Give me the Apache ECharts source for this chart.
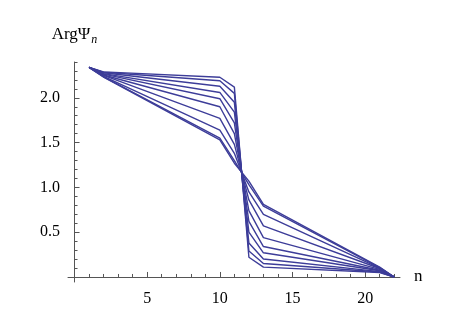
<!DOCTYPE html>
<html>
<head>
<meta charset="utf-8">
<script src="https://cdn.jsdelivr.net/npm/echarts@6/dist/echarts.min.js"></script>
<style>
  html, body { margin: 0; padding: 0; background: #fff; }
  #main { width: 471px; height: 327px; }
</style>
</head>
<body>
<div id="main"></div>
<script>
// sample points (lines are straight between these n)
var nValues = [1, 2, 10, 11, 12, 13, 21, 22];
var arg1  = [2.34, 2.29,  2.23, 2.12, 0.22, 0.11, 0.05,  0.0];
var arg2  = [2.34, 2.285, 2.19, 2.05, 0.29, 0.15, 0.055, 0.0];
var arg3  = [2.34, 2.28,  2.13, 1.95, 0.38, 0.20, 0.06,  0.0];
var arg4  = [2.34, 2.27,  2.06, 1.84, 0.50, 0.27, 0.07,  0.0];
var arg5  = [2.34, 2.265, 1.99, 1.72, 0.62, 0.34, 0.075, 0.0];
var arg6  = [2.34, 2.255, 1.90, 1.60, 0.74, 0.44, 0.085, 0.0];
var arg7  = [2.34, 2.25,  1.77, 1.48, 0.86, 0.57, 0.095, 0.0];
var arg8  = [2.34, 2.24,  1.64, 1.38, 0.95, 0.70, 0.10,  0.0];
var arg9  = [2.34, 2.235, 1.55, 1.30, 1.03, 0.79, 0.105, 0.0];
var arg10 = [2.34, 2.23,  1.53, 1.27, 1.07, 0.81, 0.11,  0.0];
var allArgs = [arg1, arg2, arg3, arg4, arg5, arg6, arg7, arg8, arg9, arg10];

// ticks
var xMajor = [5, 10, 15, 20];
var xMinor = [1, 2, 3, 4, 6, 7, 8, 9, 11, 12, 13, 14, 16, 17, 18, 19, 21, 22];
var yMajor = [0.5, 1.0, 1.5, 2.0];
var yMinor = [0.1, 0.2, 0.3, 0.4, 0.6, 0.7, 0.8, 0.9, 1.1, 1.2, 1.3, 1.4,
              1.6, 1.7, 1.8, 1.9, 2.1, 2.2, 2.3, 2.4];

var lineColor = '#3d3d99';
var axisColor = '#555';
var font = 'Liberation Serif';

var chart = echarts.init(document.getElementById('main'));

var series = allArgs.map(function (vals, i) {
    return {
        type: 'line',
        name: 'line' + (i + 1),
        xAxisIndex: 0,
        yAxisIndex: 0,
        symbol: 'none',
        lineStyle: { color: lineColor, width: 1.4 },
        data: nValues.map(function (n, k) { return [n, vals[k]]; })
    };
});

var xRange = { min: -0.45, max: 22.4 };
var yRange = { min: -0.056, max: 2.4 };

chart.setOption({
    animation: false,
    backgroundColor: '#fff',
    grid: { left: 68, right: 71, top: 62, bottom: 45, containLabel: false },
    xAxis: [{
        type: 'value', position: 'bottom',
        min: xRange.min, max: xRange.max,
        name: 'n', nameLocation: 'end', nameGap: 14,
        nameTextStyle: { fontFamily: font, fontSize: 17, color: '#000' },
        axisLine: { onZero: true, lineStyle: { color: axisColor, width: 1 } },
        axisTick: { inside: true, length: 5, customValues: xMajor, lineStyle: { color: axisColor } },
        axisLabel: { customValues: xMajor, margin: 9, fontFamily: font, fontSize: 16, color: '#000' },
        splitLine: { show: false }
    }, {
        type: 'value', position: 'bottom',
        min: xRange.min, max: xRange.max,
        axisLine: { show: false, onZero: true },
        axisTick: { inside: true, length: 3, customValues: xMinor, lineStyle: { color: axisColor } },
        axisLabel: { show: false },
        splitLine: { show: false }
    }],
    yAxis: [{
        type: 'value', position: 'left',
        min: yRange.min, max: yRange.max,
        name: 'ArgΨ{s|n}', nameLocation: 'end', nameGap: 16,
        nameTextStyle: {
            fontFamily: font, fontSize: 17, color: '#000',
            rich: { s: { fontFamily: font, fontStyle: 'italic', fontSize: 12, color: '#000', padding: [10, 0, 0, 1] } }
        },
        axisLine: { onZero: true, lineStyle: { color: axisColor, width: 1 } },
        axisTick: { inside: true, length: 5, customValues: yMajor, lineStyle: { color: axisColor } },
        axisLabel: {
            customValues: yMajor, margin: 8, fontFamily: font, fontSize: 16, color: '#000',
            formatter: function (v) { return v.toFixed(1); }
        },
        splitLine: { show: false }
    }, {
        type: 'value', position: 'left',
        min: yRange.min, max: yRange.max,
        axisLine: { show: false, onZero: true },
        axisTick: { inside: true, length: 3, customValues: yMinor, lineStyle: { color: axisColor } },
        axisLabel: { show: false },
        splitLine: { show: false }
    }],
    series: series
});
</script>
</body>
</html>
